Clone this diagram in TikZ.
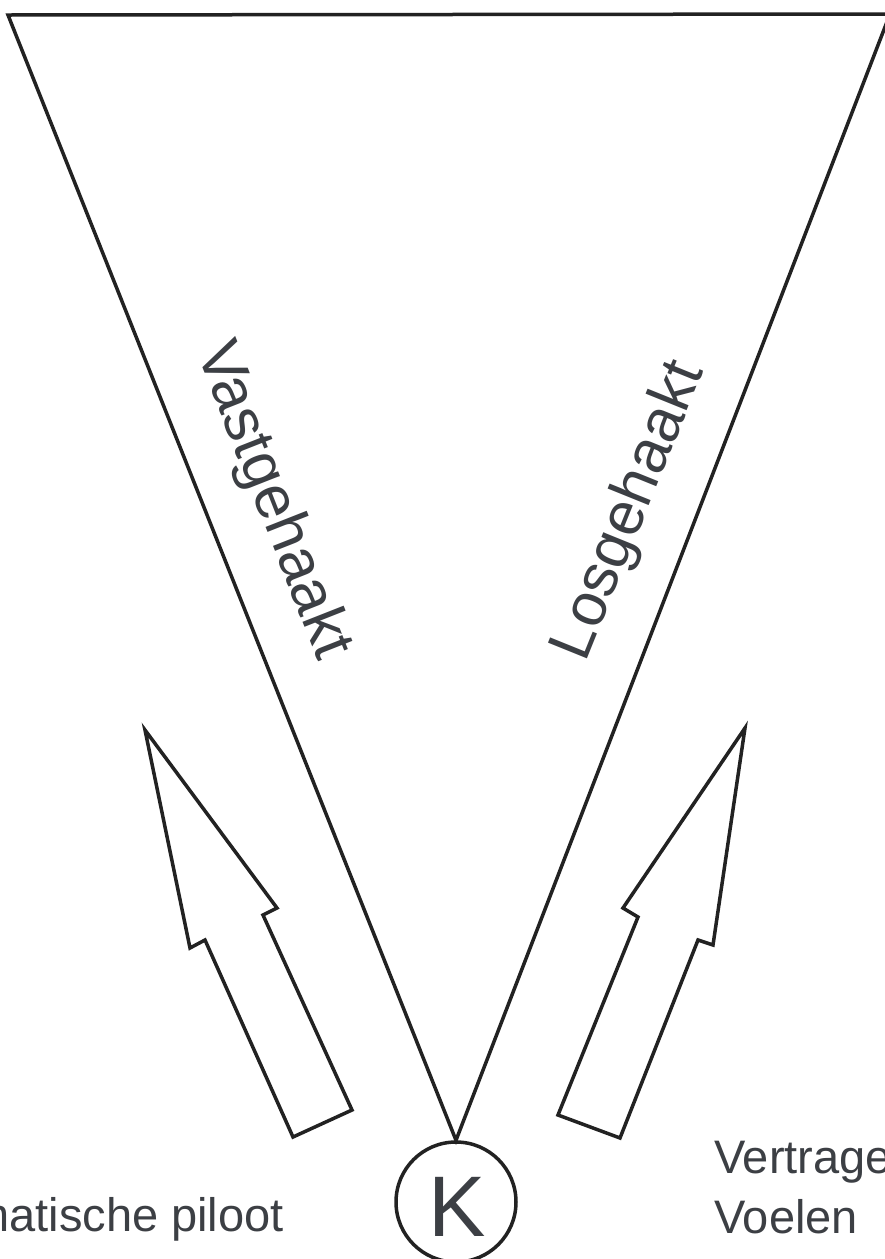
\documentclass[tikz,border=0pt]{standalone}
\usepackage{fontspec}
\setmainfont{Liberation Sans}
\definecolor{ink}{HTML}{222222}
\definecolor{txt}{HTML}{3C3F44}
\tikzset{
  edge/.style={draw=ink, line width=3.5pt, line join=miter},
  bigarrow/.style={draw=ink, line width=3.5pt, line join=miter, fill=white},
  sidelbl/.style={text=txt, inner sep=0pt, font=\fontsize{61}{70}\selectfont},
  botlbl/.style={text=txt, inner sep=0pt, font=\fontsize{47}{55}\selectfont},
}
\begin{document}
\begin{tikzpicture}[x=1pt,y=-1pt]
\useasboundingbox (0,0) rectangle (884,1259);
\fill[white] (0,0) rectangle (884,1259);
% knot
\node[circle, draw=ink, line width=3.5pt, minimum size=120pt, inner sep=0pt] (K) at (456,1202) {};
\node[text=txt, inner sep=0pt, font=\fontsize{86}{90}\selectfont] (Klbl) at (457,1207) {K};
% funnel
\coordinate (TL) at (8,15);
\coordinate (TR) at (890,14);
\draw[edge] (TL) -- (TR) -- (K.north) -- cycle;
% labels along the edges
\node[sidelbl, rotate=-68.5, anchor=base west] (vast) at (196,351) {Vastgehaakt};
\node[sidelbl, rotate=68, anchor=base west] (los) at (585.5,663.5) {Losgehaakt};
% left big arrow
\draw[bigarrow] (145,730) -- (277,908) -- (263,915) -- (352,1110) -- (293,1137) -- (205,940) -- (190,948) -- cycle;
% right big arrow
\draw[bigarrow] (745,728) -- (713,945) -- (698,940) -- (620,1138) -- (558,1115) -- (638,917) -- (623,908) -- cycle;
% bottom labels
\node[botlbl, anchor=base east] (auto) at (284,1231) {Automatische piloot};
\node[botlbl, anchor=base west] (vert) at (714,1173) {Vertragen};
\node[botlbl, anchor=base west] (voel) at (714,1233) {Voelen};
\end{tikzpicture}
\end{document}
